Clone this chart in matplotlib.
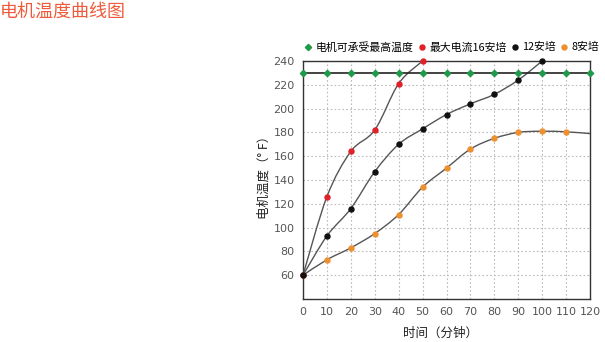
import numpy as np
import matplotlib
matplotlib.use("Agg")
import matplotlib.pyplot as plt
from matplotlib.path import Path
from matplotlib.patches import PathPatch
from matplotlib.lines import Line2D

plt.rcParams['font.family'] = ['Noto Sans CJK SC', 'DejaVu Sans']

title = "电机温度曲线图"
xlabel = "时间（分钟）"
ylabel = "电机温度（° F）"
xticks = [0, 10, 20, 30, 40, 50, 60, 70, 80, 90, 100, 110, 120]
yticks = [60, 80, 100, 120, 140, 160, 180, 200, 220, 240]

names = ["电机可承受最高温度", "最大电流16安培", "12安培", "8安培"]

limit_x = [0, 10, 20, 30, 40, 50, 60, 70, 80, 90, 100, 110, 120]
limit_y = [230, 230, 230, 230, 230, 230, 230, 230, 230, 230, 230, 230, 230]

a16_x = [0, 10, 20, 30, 40, 50]
a16_y = [60, 126, 164, 182, 221, 240]

a12_x = [0, 10, 20, 30, 40, 50, 60, 70, 80, 90, 100]
a12_y = [60, 93, 116, 147, 170, 183, 195, 204, 212, 224, 240]

a8_x = [0, 10, 20, 30, 40, 50, 60, 70, 80, 90, 100, 110, 120]
a8_y = [60, 73, 83, 95, 111, 134, 150, 166, 175, 180, 181, 180.5, 179]
a8_marked = 12  # last point has no marker

colors = ["#1e9a4a", "#e0202a", "#111111", "#ee9030"]

fig = plt.figure(figsize=(6.05, 3.42), dpi=100)
ax = fig.add_axes([303/605, 1-299/342, (590-303)/605, (299-61)/342])
ax.set_xlim(0, 120)
ax.set_ylim(40, 240)


def smooth_path(xs, ys, t=0.5):
    xs = np.asarray(xs, float); ys = np.asarray(ys, float)
    n = len(xs)
    verts = [(xs[0], ys[0])]
    codes = [Path.MOVETO]
    for i in range(n - 1):
        p0 = np.array([xs[max(i-1, 0)], ys[max(i-1, 0)]])
        p1 = np.array([xs[i], ys[i]])
        p2 = np.array([xs[i+1], ys[i+1]])
        p3 = np.array([xs[min(i+2, n-1)], ys[min(i+2, n-1)]])
        c1 = p1 + (p2 - p0) * t / 3.0
        c2 = p2 - (p3 - p1) * t / 3.0
        verts += [tuple(c1), tuple(c2), tuple(p2)]
        codes += [Path.CURVE4, Path.CURVE4, Path.CURVE4]
    return Path(verts, codes)


for xx, yy in [(a8_x, a8_y), (a12_x, a12_y), (a16_x, a16_y)]:
    ax.add_patch(PathPatch(smooth_path(xx, yy, 0.5), facecolor='none',
                           edgecolor='#555555', lw=1.0, zorder=3, clip_on=False))

ax.plot(limit_x, limit_y, color='#222222', lw=1.2, zorder=3, clip_on=False)
ax.plot(limit_x, limit_y, 'D', color=colors[0], ms=3.2, zorder=4, clip_on=False)
ax.plot(a8_x[:a8_marked], a8_y[:a8_marked], 'o', color=colors[3], ms=3.6, zorder=4, clip_on=False)
ax.plot(a16_x, a16_y, 'o', color=colors[1], ms=3.6, zorder=4, clip_on=False)
ax.plot(a12_x, a12_y, 'o', color=colors[2], ms=3.6, zorder=5, clip_on=False)

ax.set_xticks(xticks)
ax.set_yticks(yticks)
ax.tick_params(length=0, labelsize=8, labelcolor='#555555', pad=6)
for lab in ax.get_xticklabels() + ax.get_yticklabels():
    lab.set_family('DejaVu Sans')
ax.grid(True, color='#bbbbbb', lw=0.8, linestyle=(0, (1.5, 2)))
ax.set_axisbelow(True)
for s in ax.spines.values():
    s.set_color('#333333')
    s.set_linewidth(1.0)

handles = [Line2D([], [], marker='D', color=colors[0], ls='none', ms=3.2)] + \
          [Line2D([], [], marker='o', color=c, ls='none', ms=3.6) for c in colors[1:]]
fig.legend(handles, names, loc='center left', bbox_to_anchor=(305/605, 1-47/342),
           ncol=4, frameon=False, fontsize=7.8, handlelength=0.6, handletextpad=0.4,
           columnspacing=0.45, borderpad=0, borderaxespad=0)

fig.text(0, 1-12/342, title, color='#ef5b3a', fontsize=13, va='center', ha='left')
fig.text(440/605, 1-333/342, xlabel, fontsize=9, color='#222222', ha='center', va='center')
fig.text(264/605, 1-174/342, ylabel, fontsize=9, color='#222222', ha='center', va='center',
         rotation=90)

fig.savefig("out.png", dpi=100)
